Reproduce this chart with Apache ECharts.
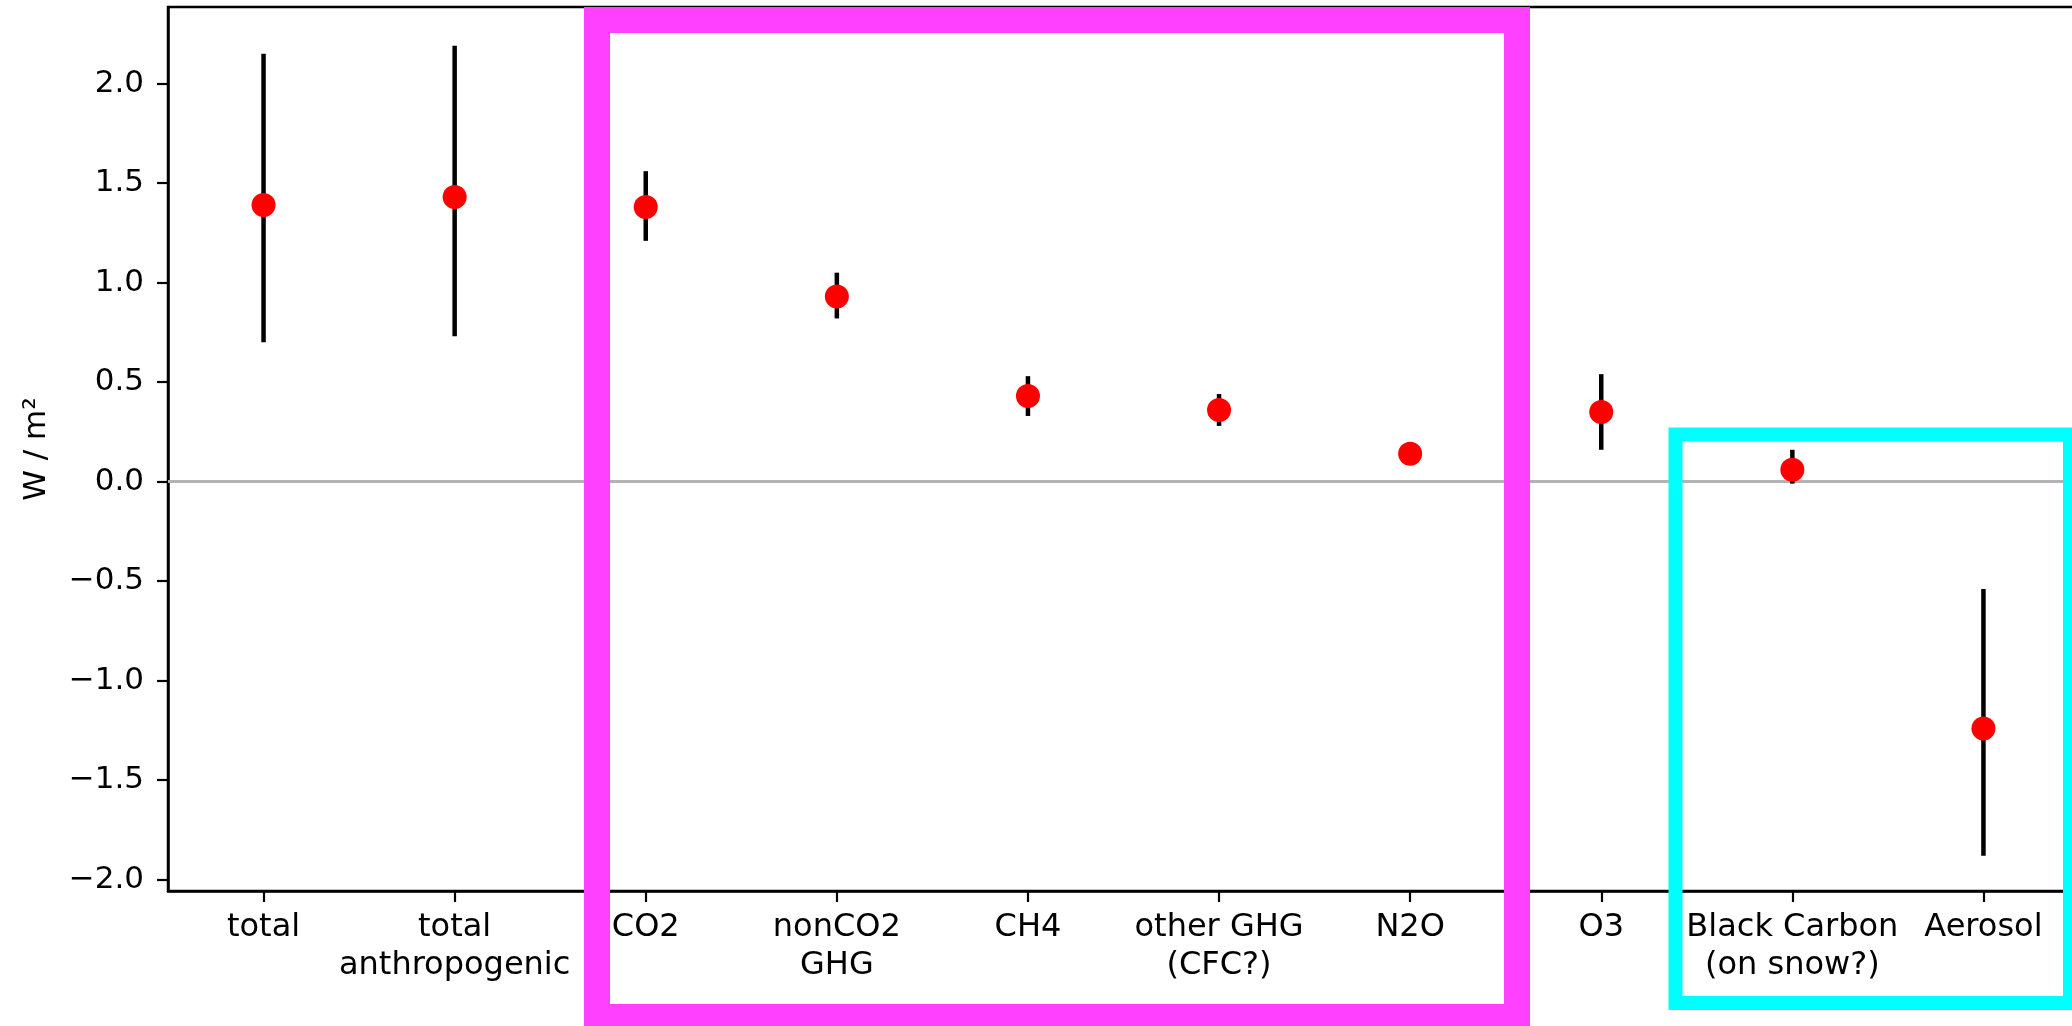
<!DOCTYPE html>
<html>
<head>
<meta charset="utf-8">
<script src="https://cdn.jsdelivr.net/npm/echarts@6/dist/echarts.min.js"></script>
<style>
  html, body { margin: 0; padding: 0; background: #fff; }
  #chart { width: 2072px; height: 1026px; }
</style>
</head>
<body>
<div id="chart"></div>
<script>
// Radiative forcing components, W / m^2
const categories = [
  'total', 'total\nanthropogenic', 'CO2', 'nonCO2\nGHG', 'CH4',
  'other GHG\n(CFC?)', 'N2O', 'O3', 'Black Carbon\n(on snow?)', 'Aerosol'
];
const central = [1.39, 1.43, 1.38, 0.93, 0.43, 0.36, 0.14, 0.35, 0.06, -1.24];
const lower   = [0.70, 0.73, 1.21, 0.82, 0.33, 0.28, 0.11, 0.16, -0.01, -1.88];
const upper   = [2.15, 2.19, 1.56, 1.05, 0.53, 0.44, 0.17, 0.54, 0.16, -0.54];
const yTicks  = [-2.0, -1.5, -1.0, -0.5, 0.0, 0.5, 1.0, 1.5, 2.0];
const yRange  = [-2.057, 2.385];

const FONT = 'DejaVu Sans';
const chart = echarts.init(document.getElementById('chart'));

const fmt = v => (v < 0 ? '\u2212' : '') + Math.abs(v).toFixed(1);

chart.setOption({
  animation: false,
  backgroundColor: '#fff',
  textStyle: { fontFamily: FONT },
  grid: {
    left: 168, top: 7, width: 1911, bottom: 135,
    show: true, borderColor: '#000', borderWidth: 2.5,
    backgroundColor: 'transparent',
    outerBoundsMode: 'none'
  },
  xAxis: {
    type: 'category',
    data: categories,
    boundaryGap: true,
    axisLine: { show: true, onZero: false, lineStyle: { color: '#000', width: 2.5 } },
    axisTick: { show: true, alignWithLabel: true, length: 11, lineStyle: { color: '#000', width: 2.2 } },
    axisLabel: {
      interval: 0, margin: 18, color: '#000', fontFamily: FONT,
      fontSize: 32, lineHeight: 38, align: 'center'
    },
    splitLine: { show: false }
  },
  yAxis: {
    type: 'value',
    min: yRange[0], max: yRange[1],
    name: 'W / m\u00B2',
    nameLocation: 'middle',
    nameRotate: 90,
    nameGap: 116,
    nameTextStyle: { color: '#000', fontFamily: FONT, fontSize: 31 },
    axisLine: { show: true, lineStyle: { color: '#000', width: 2.5 } },
    axisTick: { show: true, length: 11, customValues: yTicks, lineStyle: { color: '#000', width: 2.2 } },
    axisLabel: {
      customValues: yTicks, formatter: fmt, margin: 24,
      color: '#000', fontFamily: FONT, fontSize: 31
    },
    splitLine: { show: false }
  },
  series: [
    {
      // uncertainty ranges
      type: 'custom',
      z: 2,
      data: categories.map((c, i) => [i, lower[i], upper[i]]),
      encode: { x: 0, y: [1, 2] },
      renderItem: (params, api) => {
        const p0 = api.coord([api.value(0), api.value(1)]);
        const p1 = api.coord([api.value(0), api.value(2)]);
        return {
          type: 'line',
          shape: { x1: p0[0], y1: p0[1], x2: p1[0], y2: p1[1] },
          style: { stroke: '#000', lineWidth: 4.5 }
        };
      },
      markLine: {
        silent: true,
        symbol: 'none',
        z: 1,
        label: { show: false },
        lineStyle: { color: '#b3b3b3', width: 3, type: 'solid' },
        data: [{ yAxis: 0 }]
      }
    },
    {
      type: 'scatter',
      z: 3,
      symbol: 'circle',
      symbolSize: 24,
      itemStyle: { color: '#ff0000', opacity: 1 },
      data: central.map((v, i) => [i, v])
    }
  ],
  graphic: [
    {
      type: 'rect', z: 100,
      shape: { x: 597, y: 20, width: 920, height: 997 },
      style: { fill: 'none', stroke: '#ff40ff', lineWidth: 26 }
    },
    {
      type: 'rect', z: 100,
      shape: { x: 1675.5, y: 434.5, width: 394.5, height: 568.5 },
      style: { fill: 'none', stroke: '#00ffff', lineWidth: 14 }
    }
  ]
});
</script>
</body>
</html>
